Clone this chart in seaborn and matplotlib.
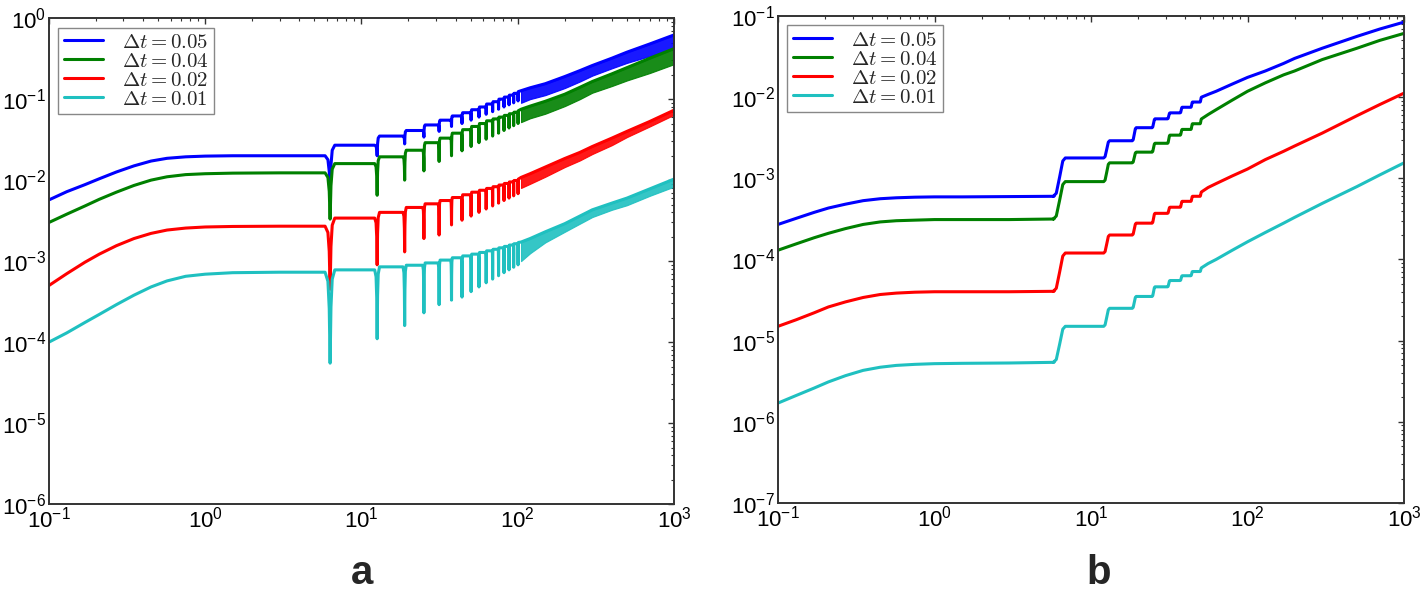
import numpy as np
import pandas as pd
import matplotlib
matplotlib.use('Agg')
import matplotlib.pyplot as plt
import seaborn as sns

sns.set_style('white')
plt.rcParams['font.family'] = ['Liberation Sans', 'DejaVu Sans']
plt.rcParams['mathtext.fontset'] = 'cm'

labels = [r'$\Delta t = 0.05$', r'$\Delta t = 0.04$', r'$\Delta t = 0.02$', r'$\Delta t = 0.01$']
colors = ['#0000ff', '#008000', '#ff0000', '#1fc0c0']

# times of the dips / steps
dip_t = [6.3, 12.6, 18.9, 25.1, 31.4, 37.7, 44.0, 50.3, 56.5, 62.8, 69.1, 75.4, 81.7, 88.0, 94.2, 100.5]
rise_x = [0.1, 0.13, 0.17, 0.21, 0.27, 0.35, 0.45, 0.57, 0.75, 1.0, 1.5, 3.0, 5.8]

#%% panel a values (order: dt 0.05, 0.04, 0.02, 0.01)
a_rise = [[5.7e-3, 7.2e-3, 8.8e-3, 1.04e-2, 1.26e-2, 1.5e-2, 1.72e-2, 1.86e-2, 1.94e-2, 1.98e-2, 2.0e-2, 2.0e-2, 2.0e-2],
          [3.0e-3, 3.8e-3, 4.8e-3, 5.8e-3, 7.1e-3, 8.6e-3, 1.0e-2, 1.1e-2, 1.17e-2, 1.2e-2, 1.22e-2, 1.23e-2, 1.23e-2],
          [5.0e-4, 7.0e-4, 9.7e-4, 1.22e-3, 1.55e-3, 1.9e-3, 2.2e-3, 2.42e-3, 2.56e-3, 2.64e-3, 2.68e-3, 2.7e-3, 2.7e-3],
          [1.0e-4, 1.3e-4, 1.75e-4, 2.2e-4, 2.9e-4, 3.8e-4, 4.8e-4, 5.7e-4, 6.5e-4, 6.9e-4, 7.2e-4, 7.3e-4, 7.3e-4]]
a_plat = [[0.027, 0.035, 0.041, 0.048, 0.055, 0.062, 0.068, 0.074, 0.080, 0.087, 0.093, 0.100, 0.106, 0.112, 0.118, 0.124],
          [0.016, 0.0194, 0.0234, 0.029, 0.033, 0.038, 0.042, 0.046, 0.050, 0.054, 0.057, 0.060, 0.063, 0.066, 0.069, 0.072],
          [3.4e-3, 4.0e-3, 4.6e-3, 5.1e-3, 5.6e-3, 6.1e-3, 6.6e-3, 7.1e-3, 7.5e-3, 7.9e-3, 8.3e-3, 8.7e-3, 9.1e-3, 9.5e-3, 9.9e-3, 1.03e-2],
          [7.8e-4, 8.5e-4, 8.9e-4, 9.5e-4, 1.03e-3, 1.1e-3, 1.16e-3, 1.22e-3, 1.28e-3, 1.34e-3, 1.4e-3, 1.46e-3, 1.52e-3, 1.58e-3, 1.64e-3, 1.7e-3]]
a_dip = [[6.5e-3, 0.020, 0.028, 0.034, 0.040, 0.046, 0.050, 0.055, 0.060, 0.065, 0.070, 0.075, 0.080, 0.085, 0.090, 0.095],
         [3.3e-3, 6.5e-3, 0.010, 0.013, 0.017, 0.020, 0.023, 0.026, 0.029, 0.032, 0.035, 0.038, 0.041, 0.044, 0.047, 0.050],
         [4.5e-4, 9.0e-4, 1.3e-3, 1.9e-3, 2.1e-3, 2.8e-3, 3.2e-3, 3.6e-3, 4.0e-3, 4.4e-3, 4.8e-3, 5.2e-3, 5.6e-3, 6.0e-3, 6.4e-3, 6.8e-3],
         [5.5e-5, 1.1e-4, 1.6e-4, 2.3e-4, 2.9e-4, 3.3e-4, 3.6e-4, 4.2e-4, 4.8e-4, 5.4e-4, 6.0e-4, 6.6e-4, 7.2e-4, 7.8e-4, 8.4e-4, 9.0e-4]]
# dense oscillation band (upper and lower edge)
band_x = [105, 120, 150, 200, 250, 300, 400, 500, 700, 1000]
a_top = [[0.127, 0.138, 0.155, 0.19, 0.225, 0.26, 0.32, 0.38, 0.48, 0.62],
         [0.075, 0.082, 0.094, 0.115, 0.14, 0.165, 0.205, 0.245, 0.32, 0.42],
         [1.08e-2, 1.2e-2, 1.45e-2, 1.85e-2, 2.2e-2, 2.6e-2, 3.3e-2, 4.0e-2, 5.3e-2, 7.3e-2],
         [1.72e-3, 1.9e-3, 2.3e-3, 2.9e-3, 3.6e-3, 4.3e-3, 5.2e-3, 6.0e-3, 7.8e-3, 1.03e-2]]
a_low = [[0.09, 0.10, 0.112, 0.137, 0.165, 0.195, 0.24, 0.28, 0.34, 0.42],
         [0.052, 0.058, 0.066, 0.082, 0.10, 0.12, 0.145, 0.17, 0.21, 0.27],
         [8.0e-3, 9.0e-3, 1.1e-2, 1.45e-2, 1.75e-2, 2.1e-2, 2.7e-2, 3.4e-2, 4.6e-2, 6.4e-2],
         [1.0e-3, 1.25e-3, 1.7e-3, 2.3e-3, 2.9e-3, 3.5e-3, 4.3e-3, 4.9e-3, 6.4e-3, 8.3e-3]]

#%% panel b values
b_rise = [[2.7e-4, 3.2e-4, 3.8e-4, 4.3e-4, 4.8e-4, 5.3e-4, 5.6e-4, 5.75e-4, 5.85e-4, 5.9e-4, 5.9e-4, 5.95e-4, 6.0e-4],
          [1.3e-4, 1.55e-4, 1.85e-4, 2.1e-4, 2.4e-4, 2.7e-4, 2.9e-4, 3.0e-4, 3.05e-4, 3.1e-4, 3.1e-4, 3.1e-4, 3.15e-4],
          [1.5e-5, 1.8e-5, 2.2e-5, 2.6e-5, 3.0e-5, 3.4e-5, 3.7e-5, 3.85e-5, 3.95e-5, 4.0e-5, 4.0e-5, 4.0e-5, 4.05e-5],
          [1.7e-6, 2.1e-6, 2.6e-6, 3.1e-6, 3.7e-6, 4.3e-6, 4.7e-6, 4.95e-6, 5.1e-6, 5.2e-6, 5.25e-6, 5.3e-6, 5.4e-6]]
b_plat = [[1.78e-3, 2.9e-3, 4.2e-3, 5.4e-3, 6.4e-3, 7.5e-3, 8.7e-3, 1.0e-2],
          [9.1e-4, 1.55e-3, 2.1e-3, 2.7e-3, 3.4e-3, 4.0e-3, 4.7e-3, 5.4e-3],
          [1.2e-4, 2.0e-4, 2.8e-4, 3.7e-4, 4.4e-4, 5.2e-4, 6.0e-4, 6.8e-4],
          [1.5e-5, 2.5e-5, 3.5e-5, 4.6e-5, 5.5e-5, 6.3e-5, 7.1e-5, 7.9e-5]]
tail_x = [56, 63, 80, 100, 130, 170, 200, 300, 500, 700, 1000]
b_tail = [[1.08e-2, 1.18e-2, 1.45e-2, 1.75e-2, 2.1e-2, 2.6e-2, 3.0e-2, 4.0e-2, 5.6e-2, 6.9e-2, 8.4e-2],
          [6.1e-3, 7.0e-3, 9.2e-3, 1.18e-2, 1.5e-2, 1.88e-2, 2.1e-2, 2.9e-2, 4.0e-2, 5.0e-2, 6.1e-2],
          [7.7e-4, 8.6e-4, 1.07e-3, 1.3e-3, 1.7e-3, 2.15e-3, 2.5e-3, 3.6e-3, 5.9e-3, 8.1e-3, 1.12e-2],
          [8.9e-5, 1.0e-4, 1.3e-4, 1.65e-4, 2.15e-4, 2.8e-4, 3.3e-4, 4.9e-4, 7.9e-4, 1.1e-3, 1.55e-3]]

# shape of one dip / one step around its time
dip_off = [-0.45, -0.2, -0.08, 0.0, 0.08, 0.2, 0.45]
dip_frac = [0, 0.1, 0.4, 1, 0.4, 0.1, 0]
step_off = [-0.55, -0.3, 0.0, 0.3, 0.55]
step_frac = [0, 0.08, 0.5, 0.92, 1]


def dip_curve(rise, plats, dips, top):
    xs, ys = list(rise_x), list(rise)
    before = rise[-1]
    for t, lo, after in zip(dip_t, dips, plats):
        for off, fr in zip(dip_off, dip_frac):
            lvl = before if off < 0 else after
            xs.append(t + off)
            ys.append(lvl * (lo / lvl) ** fr)
        before = after
    return xs + band_x, ys + top


def step_curve(rise, plats, tail):
    xs, ys = list(rise_x), list(rise)
    before = rise[-1]
    for t, after in zip(dip_t, plats):
        for off, fr in zip(step_off, step_frac):
            xs.append(t + off)
            ys.append(before * (after / before) ** fr)
        before = after
    return xs + tail_x, ys + tail


fig = plt.figure(figsize=(14.27, 5.91), dpi=100)
ax_a = fig.add_axes([0.0343, 0.147, 0.438, 0.8223])
ax_b = fig.add_axes([0.5452, 0.149, 0.4387, 0.824])

for i in range(4):
    x, y = dip_curve(a_rise[i], a_plat[i], a_dip[i], a_top[i])
    df = pd.DataFrame({'t': x, 'err': y})
    sns.lineplot(data=df, x='t', y='err', ax=ax_a, color=colors[i], lw=2.2,
                 sort=False, estimator=None, label=labels[i])
    ax_a.fill_between(band_x, a_low[i], a_top[i], color=colors[i], lw=0.8, alpha=0.9)

    x, y = step_curve(b_rise[i], b_plat[i], b_tail[i])
    df = pd.DataFrame({'t': x, 'err': y})
    sns.lineplot(data=df, x='t', y='err', ax=ax_b, color=colors[i], lw=2.2,
                 sort=False, estimator=None, label=labels[i])

for ax, ylim in [(ax_a, (1e-6, 1)), (ax_b, (1e-7, 1e-1))]:
    ax.set_xscale('log')
    ax.set_yscale('log')
    ax.set_xlim(0.1, 1000)
    ax.set_ylim(*ylim)
    ax.set_xlabel('')
    ax.set_ylabel('')
    ax.xaxis.label.set_visible(False)
    ax.yaxis.label.set_visible(False)
    ax.tick_params(which='both', direction='in', top=True, right=True, labelsize=16, pad=2,
                   color='#333333', labelcolor='black')
    ax.tick_params(which='major', length=4.5, width=1)
    ax.tick_params(which='minor', length=2.5, width=0.8)
    for s in ax.spines.values():
        s.set_linewidth(1.4)
        s.set_color('#333333')
    leg = ax.legend(loc='upper left', fontsize=15, labelspacing=0.0, handlelength=1.9,
                    handletextpad=0.9, borderaxespad=0.45, borderpad=0.25, fancybox=False,
                    framealpha=1, edgecolor='#888888')
    leg.get_frame().set_linewidth(1.0)

fig.text(0.254, 0.012, 'a', fontsize=29, fontweight='bold', ha='center', va='baseline')
fig.text(0.770, 0.012, 'b', fontsize=29, fontweight='bold', ha='center', va='baseline')

fig.savefig('out.png', dpi=100)
